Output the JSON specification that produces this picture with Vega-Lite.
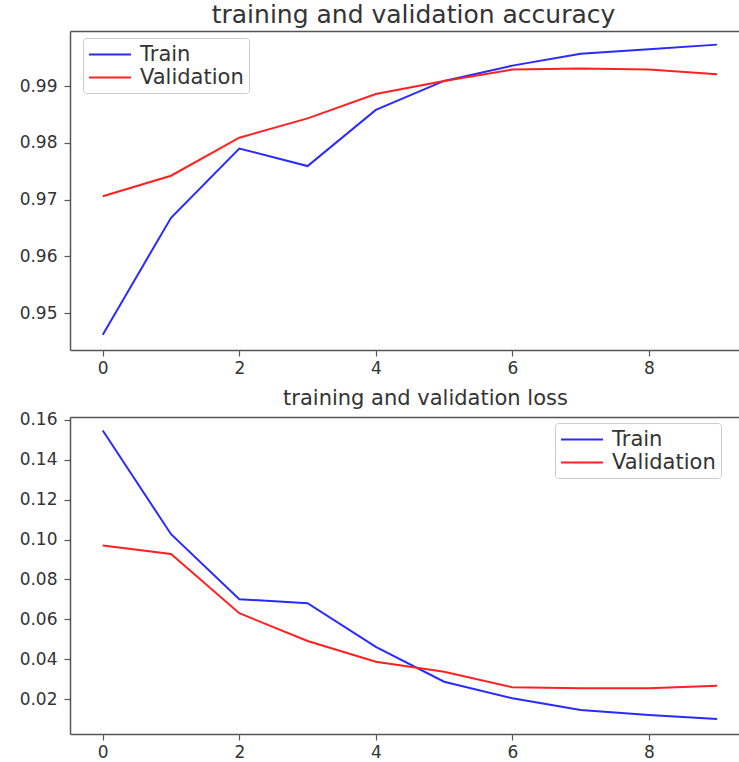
{
  "$schema": "https://vega.github.io/schema/vega-lite/v6.json",
  "padding": {"left": 0, "top": 3, "right": 0, "bottom": 0},
  "background": "white",
  "spacing": 11,
  "datasets": {
    "acc": [
      {"epoch": 0, "set": "Train", "value": 0.9462},
      {"epoch": 1, "set": "Train", "value": 0.9668},
      {"epoch": 2, "set": "Train", "value": 0.9790},
      {"epoch": 3, "set": "Train", "value": 0.9759},
      {"epoch": 4, "set": "Train", "value": 0.9858},
      {"epoch": 5, "set": "Train", "value": 0.9909},
      {"epoch": 6, "set": "Train", "value": 0.9936},
      {"epoch": 7, "set": "Train", "value": 0.9957},
      {"epoch": 8, "set": "Train", "value": 0.9965},
      {"epoch": 9, "set": "Train", "value": 0.9973},
      {"epoch": 0, "set": "Validation", "value": 0.9706},
      {"epoch": 1, "set": "Validation", "value": 0.9742},
      {"epoch": 2, "set": "Validation", "value": 0.9809},
      {"epoch": 3, "set": "Validation", "value": 0.9843},
      {"epoch": 4, "set": "Validation", "value": 0.9886},
      {"epoch": 5, "set": "Validation", "value": 0.9909},
      {"epoch": 6, "set": "Validation", "value": 0.9929},
      {"epoch": 7, "set": "Validation", "value": 0.9931},
      {"epoch": 8, "set": "Validation", "value": 0.9929},
      {"epoch": 9, "set": "Validation", "value": 0.9921}
    ],
    "loss": [
      {"epoch": 0, "set": "Train", "value": 0.1546},
      {"epoch": 1, "set": "Train", "value": 0.1027},
      {"epoch": 2, "set": "Train", "value": 0.0701},
      {"epoch": 3, "set": "Train", "value": 0.0681},
      {"epoch": 4, "set": "Train", "value": 0.0462},
      {"epoch": 5, "set": "Train", "value": 0.0288},
      {"epoch": 6, "set": "Train", "value": 0.0205},
      {"epoch": 7, "set": "Train", "value": 0.0146},
      {"epoch": 8, "set": "Train", "value": 0.0121},
      {"epoch": 9, "set": "Train", "value": 0.0101},
      {"epoch": 0, "set": "Validation", "value": 0.0970},
      {"epoch": 1, "set": "Validation", "value": 0.0928},
      {"epoch": 2, "set": "Validation", "value": 0.0631},
      {"epoch": 3, "set": "Validation", "value": 0.0492},
      {"epoch": 4, "set": "Validation", "value": 0.0388},
      {"epoch": 5, "set": "Validation", "value": 0.0338},
      {"epoch": 6, "set": "Validation", "value": 0.0260},
      {"epoch": 7, "set": "Validation", "value": 0.0255},
      {"epoch": 8, "set": "Validation", "value": 0.0255},
      {"epoch": 9, "set": "Validation", "value": 0.0268}
    ]
  },
  "config": {
    "font": "DejaVu Sans",
    "view": {"stroke": null},
    "axis": {
      "domainColor": "#555555",
      "domainWidth": 1.5,
      "tickColor": "#555555",
      "tickWidth": 1.2,
      "tickSize": 6,
      "labelColor": "#333333",
      "labelFont": "DejaVu Sans",
      "labelFontSize": 17,
      "grid": false,
      "title": null
    },
    "axisY": {"labelPadding": 7, "minExtent": 70, "maxExtent": 70},
    "axisX": {"labelPadding": 4},
    "title": {"font": "DejaVu Sans", "fontWeight": "normal", "color": "#333333", "anchor": "middle"},
    "legend": {
      "symbolType": "M-1,0H3",
      "symbolSize": 441,
      "symbolStrokeWidth": 2,
      "labelFont": "DejaVu Sans",
      "labelFontSize": 21,
      "labelColor": "#333333",
      "labelOffset": 29,
      "padding": 5,
      "rowPadding": 1,
      "strokeColor": "#cccccc",
      "fillColor": "white",
      "cornerRadius": 3
    }
  },
  "resolve": {"scale": {"color": "independent"}, "legend": {"color": "independent"}},
  "vconcat": [
    {
      "width": 669,
      "height": 319,
      "title": {"text": "training and validation accuracy", "fontSize": 25, "dx": 9, "offset": 3},
      "data": {"name": "acc"},
      "layer": [
        {
          "mark": {"type": "line", "strokeWidth": 2},
          "encoding": {
            "x": {"field": "epoch", "type": "quantitative", "scale": {"domain": [-0.48, 9.32], "nice": false, "zero": false}, "axis": {"values": [0, 2, 4, 6, 8], "format": "d"}},
            "y": {"field": "value", "type": "quantitative", "scale": {"domain": [0.9435, 0.9997], "nice": false, "zero": false}, "axis": {"values": [0.95, 0.96, 0.97, 0.98, 0.99], "format": ".2f"}},
            "color": {"field": "set", "type": "nominal", "scale": {"domain": ["Train", "Validation"], "range": ["#2a2aff", "#ff2020"]}, "legend": {"orient": "none", "legendX": 13, "legendY": 7, "title": null}}
          }
        },
        {
          "mark": {"type": "rule", "opacity": 0},
          "encoding": {
            "x": {"field": "epoch", "type": "quantitative", "axis": {"orient": "top", "labels": false, "ticks": false}}
          }
        }
      ],
      "resolve": {"axis": {"x": "independent"}}
    },
    {
      "width": 669,
      "height": 317,
      "title": {"text": "training and validation loss", "fontSize": 21, "dx": 21, "offset": 2},
      "data": {"name": "loss"},
      "layer": [
        {
          "mark": {"type": "line", "strokeWidth": 2},
          "encoding": {
            "x": {"field": "epoch", "type": "quantitative", "scale": {"domain": [-0.48, 9.32], "nice": false, "zero": false}, "axis": {"values": [0, 2, 4, 6, 8], "format": "d"}},
            "y": {"field": "value", "type": "quantitative", "scale": {"domain": [0.0026, 0.1614], "nice": false, "zero": false}, "axis": {"values": [0.02, 0.04, 0.06, 0.08, 0.10, 0.12, 0.14, 0.16], "format": ".2f"}},
            "color": {"field": "set", "type": "nominal", "scale": {"domain": ["Train", "Validation"], "range": ["#2a2aff", "#ff2020"]}, "legend": {"orient": "none", "legendX": 485, "legendY": 6, "title": null}}
          }
        },
        {
          "mark": {"type": "rule", "opacity": 0},
          "encoding": {
            "x": {"field": "epoch", "type": "quantitative", "axis": {"orient": "top", "labels": false, "ticks": false}}
          }
        }
      ],
      "resolve": {"axis": {"x": "independent"}}
    }
  ]
}
